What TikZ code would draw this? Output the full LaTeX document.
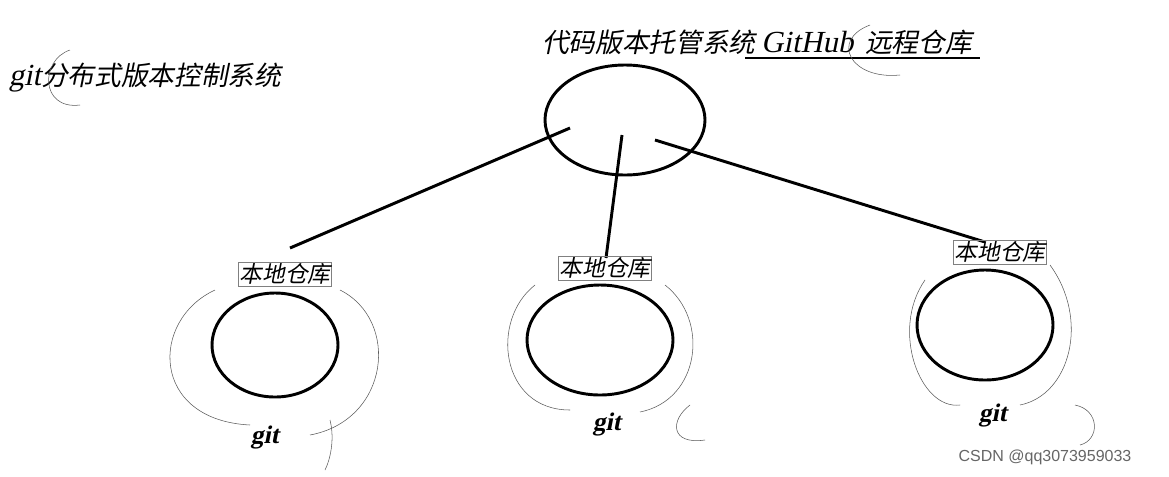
\documentclass[tikz,border=0pt]{standalone}
\usepackage{fontspec}
\newfontfamily\cjk[FakeSlant=0.2]{Noto Sans CJK SC}
\newfontfamily\lat[FakeSlant=0.2]{Liberation Serif}
\begin{document}
\begin{tikzpicture}[x=0.75pt,y=-0.75pt,
  repo/.style={draw,line width=2.2pt,ellipse},
  link/.style={line width=2.2pt},
  lbl/.style={font=\cjk\fontsize{17}{19}\selectfont,inner sep=1pt},
  boxlbl/.style={lbl,draw=gray,thin},
  gitlbl/.style={font=\lat\bfseries\fontsize{19}{21}\selectfont},
  scrib/.style={draw=gray!70!black,thin}]
\useasboundingbox (0,0) rectangle (1169,476);
\fill[white] (0,0) rectangle (1169,476);
% ellipses
\draw[link] (625,120) ellipse (80 and 55);
\draw[link] (275,345) ellipse (63 and 52);
\draw[link] (600,340) ellipse (73 and 55);
\draw[link] (985,325) ellipse (68 and 55);
% connectors
\coordinate (t1) at (570,128); \coordinate (b1) at (290,248);
\coordinate (t2) at (622,135); \coordinate (b2) at (606,258);
\coordinate (t3) at (655,140); \coordinate (b3) at (985,242);
\draw[link] (t1) -- (b1);
\draw[link] (t2) -- (b2);
\draw[link] (t3) -- (b3);
% texts
\node[lbl,font=\cjk\fontsize{20}{22}\selectfont] (title) at (757,42) {代码版本托管系统 {\lat\fontsize{23}{25}\selectfont GitHub}\ \ 远程仓库};
\coordinate (u1) at (745,58); \coordinate (u2) at (980,58);
\draw[line width=2pt] (u1) -- (u2);
\node[lbl,font=\cjk\fontsize{20}{22}\selectfont] (dist) at (145,78) {{\lat\fontsize{23}{25}\selectfont git}分布式版本控制系统};
\node[boxlbl] (r1) at (285,274) {本地仓库};
\node[boxlbl] (r2) at (605,268) {本地仓库};
\node[boxlbl] (r3) at (1000,252) {本地仓库};
\node[gitlbl] (g1) at (265,437) {git};
\node[gitlbl] (g2) at (607,424) {git};
\node[gitlbl] (g3) at (993,415) {git};
\node[font=\fontspec{Liberation Sans}\fontsize{12}{14}\selectfont,text=gray!80!black] (wm) at (1045,457) {CSDN @qq3073959033};
% scribbles
\draw[scrib] (215,290) .. controls (150,320) and (150,420) .. (250,425);
\draw[scrib] (340,290) .. controls (400,320) and (390,420) .. (310,435);
\draw[scrib] (535,285) .. controls (490,320) and (500,410) .. (570,410);
\draw[scrib] (665,285) .. controls (710,320) and (700,400) .. (640,412);
\draw[scrib] (925,280) .. controls (890,330) and (920,410) .. (960,405);
\draw[scrib] (1050,265) .. controls (1090,320) and (1070,395) .. (1020,405);
\draw[scrib] (870,25) .. controls (830,40) and (850,80) .. (900,75);
\draw[scrib] (70,50) .. controls (40,60) and (40,110) .. (80,105);
\draw[scrib] (330,420) .. controls (335,440) and (330,460) .. (325,470);
\draw[scrib] (690,405) .. controls (670,420) and (670,445) .. (705,440);
\draw[scrib] (1075,405) .. controls (1100,410) and (1100,440) .. (1080,445);
\end{tikzpicture}
\end{document}
